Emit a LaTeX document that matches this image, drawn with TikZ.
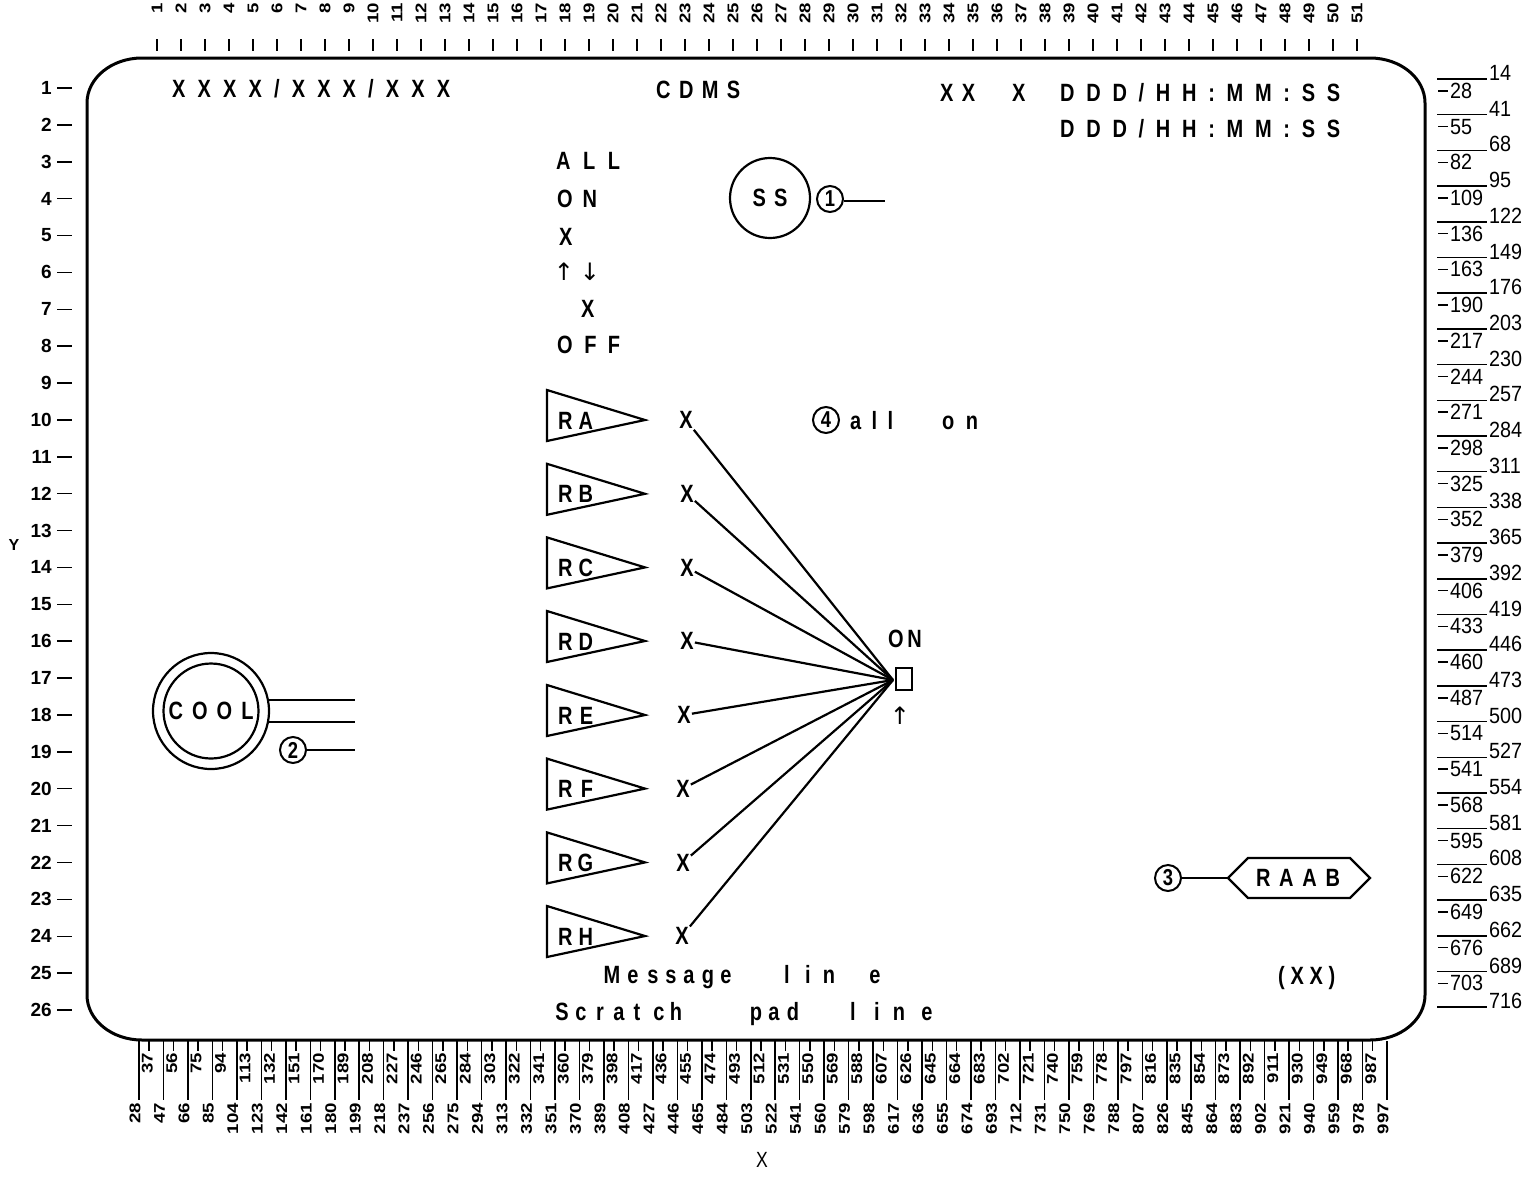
\documentclass[tikz,border=0pt]{standalone}
\usepackage{fontspec}
\setmainfont{Liberation Sans}
\newfontfamily\dspf{Liberation Sans}[FakeStretch=0.8]
\newfontfamily\sclf{Liberation Sans}[FakeStretch=1.2]
\newfontfamily\rnf{Liberation Sans}[FakeStretch=0.9]
\newfontfamily\arrf{DejaVu Sans}
\begin{document}
\begin{tikzpicture}[x=1pt,y=-1pt,
  ln/.style={line width=2.2pt},
  sline/.style={line width=1.5pt},
  txt/.style={font=\dspf\bfseries\fontsize{25}{25}\selectfont, inner sep=0pt, anchor=base west},
  ctxt/.style={font=\dspf\bfseries\fontsize{25}{25}\selectfont, inner sep=0pt},
  mk/.style={font=\dspf\bfseries\fontsize{25}{25}\selectfont, inner sep=1pt},
  ch/.style={font=\dspf\bfseries\fontsize{25}{25}\selectfont, inner sep=0pt, anchor=base},
  cnum/.style={circle, draw, line width=2pt, minimum size=26pt, inner sep=0pt, font=\dspf\bfseries\fontsize{23}{23}\selectfont},
  topn/.style={rotate=90, anchor=east, inner sep=0pt, font=\sclf\bfseries\fontsize{15.5}{15.5}\selectfont},
  rn/.style={inner sep=0pt, font=\rnf\fontsize{22}{22}\selectfont},
  rown/.style={anchor=east, inner sep=0pt, font=\bfseries\fontsize{19}{19}\selectfont},
  arrw/.style={inner sep=0pt, font=\arrf\fontsize{24}{24}\selectfont}]
\useasboundingbox (0,0) rectangle (1539,1179);
\fill[white] (0,0) rectangle (1539,1179);

% frame
\draw[line width=3pt] (142,58) -- (1370,58)
  .. controls (1400.4,58) and (1425,78.1) .. (1425,103) -- (1425,995)
  .. controls (1425,1019.9) and (1400.4,1040) .. (1370,1040) -- (142,1040)
  .. controls (111.6,1040) and (87,1019.9) .. (87,995) -- (87,103)
  .. controls (87,78.1) and (111.6,58) .. (142,58) -- cycle;

% top scale
\foreach \c in {1,...,51}{
  \pgfmathsetmacro\xx{157+24*(\c-1)}
  \node[topn] (tc\c) at (\xx,3) {\c};
  \draw[sline] (\xx,39) -- (\xx,51);
}
% bottom scale
\foreach \k in {0,...,51}{
  \pgfmathsetmacro\xx{135+24.47*\k}
  \pgfmathtruncatemacro\vv{28+19*\k}
  \node[topn] (bl\k) at (\xx,1103) {\vv};
  \draw[sline] (\xx+4,1041) -- (\xx+4,1100);
}
\foreach \k in {0,...,50}{
  \pgfmathsetmacro\xx{147.2+24.47*\k}
  \pgfmathtruncatemacro\vv{37+19*\k}
  \node[topn] (bu\k) at (\xx,1053) {\vv};
  \draw[sline] (\xx+2,1041) -- (\xx+2,1051);
}
% right scale
\foreach \k in {0,...,52}{
  \pgfmathsetmacro\yy{73+17.85*\k}
  \pgfmathtruncatemacro\vv{14+floor(13.5*\k+0.5)}
  \ifodd\k
    \draw[sline] (1438,\yy) -- (1448,\yy);
    \node[rn, anchor=west] (rs\k) at (1450,\yy) {\vv};
  \else
    \draw[sline] (1437,\yy+6) -- (1487,\yy+6);
    \node[rn, anchor=base west] (rs\k) at (1489,\yy+7.5) {\vv};
  \fi
}
% left scale
\foreach \r in {1,...,26}{
  \pgfmathsetmacro\yy{88+36.88*(\r-1)}
  \node[rown] (lr\r) at (52,\yy) {\r};
  \draw[sline] (57,\yy) -- (72,\yy);
}
\node[inner sep=0pt, font=\bfseries\fontsize{16}{16}\selectfont] (yaxis) at (14,545) {Y};
\node[inner sep=0pt, font=\dspf\fontsize{22}{22}\selectfont] (xaxis) at (762,1160) {X};

% header
\node[txt] (h1) at (172,97) {\makebox[278pt][s]{X X X X / X X X / X X X}};
\node[txt] (h2) at (656,98) {\makebox[84pt][s]{C D M S}};
\node[txt] (h3) at (940,101) {\makebox[35pt][s]{X X}};
\node[txt] (h4) at (1012,101) {X};
\node[txt] (h5) at (1060,101) {\makebox[280pt][s]{D D D / H H : M M : S S}};
\node[txt] (h6) at (1060,137) {\makebox[280pt][s]{D D D / H H : M M : S S}};

% left column
\node[txt] (all) at (556,169) {\makebox[64pt][s]{A L L}};
\node[txt] (on) at (557,207) {\makebox[40pt][s]{O N}};
\node[txt] (xm1) at (559,245) {X};
\node[arrw] (aup) at (564,272) {↑};
\node[arrw] (adn) at (590,272) {↓};
\node[txt] (xm2) at (581,317) {X};
\node[txt] (off) at (557,353) {\makebox[63pt][s]{O F F}};

% SS
\node[circle, draw, ln, minimum size=80pt, inner sep=0pt, font=\dspf\bfseries\fontsize{25}{25}\selectfont] (ss) at (770,198) {\makebox[35pt][s]{S S}};
\node[cnum] (n1) at (830,199) {1};
\coordinate (n1e) at (885,201);
\draw[sline] (n1.east |- n1e) -- (n1e);

% all on
\node[cnum] (n4) at (826,420) {4};
\node[txt] (al) at (850,429) {\makebox[43pt][s]{a l l}};
\node[txt] (onl) at (942,429) {\makebox[36pt][s]{o n}};

% junction square
\node[draw, ln, minimum width=16pt, minimum height=22pt, inner sep=0pt] (sq) at (904,679) {};
\coordinate (j) at (893,680);
\node[txt] (onsq) at (888,647) {\makebox[25pt][s]{O N}};
\node[arrw] (upsq) at (900,716) {↑};

% pennants
\foreach \n/\L/\yy/\xx in {a/A/420/686, b/B/493.8/687, c/C/567.4/687, d/D/641/687, e/E/715/684, f/F/788.6/683, g/G/862.4/683, h/H/936/682}{
  \draw[ln, line join=miter] (547,\yy-30) -- (645,\yy) -- (547,\yy+21) -- cycle;
  \node[txt] (r\n) at (558,\yy+9) {\makebox[35pt][s]{R \L}};
  \node[mk] (x\n) at (\xx,\yy) {X};
  \draw[ln] (x\n) -- (j);
}

% COOL
\node[circle, draw, ln, minimum size=95pt, inner sep=0pt, font=\dspf\bfseries\fontsize{25}{25}\selectfont] (cool) at (211,711) {\makebox[85pt][s]{C O O L}};
\node[circle, draw, ln, minimum size=116pt] (coolo) at (211,711) {};
\coordinate (cl) at (355,0);
\draw[ln] (coolo.11) -- (coolo.11 -| cl);
\draw[ln] (coolo.-11) -- (coolo.-11 -| cl);
\node[cnum] (n2) at (293,750) {2};
\coordinate (n2e) at (355,750);
\draw[sline] (n2) -- (n2e);

% RAAB
\draw[ln] (1228,878) -- (1248,858) -- (1350,858) -- (1370,878) -- (1350,898) -- (1248,898) -- cycle;
\node[ctxt] (raab) at (1298,878) {\makebox[84pt][s]{R A A B}};
\coordinate (hexl) at (1228,878);
\node[cnum] (n3) at (1168,878) {3};
\draw[sline] (n3) -- (hexl);
\node[txt] (xx) at (1278,984) {\makebox[57pt][s]{( X X )}};

% message / scratch pad lines
\foreach \c/\xx [count=\i] in {M/612,e/633,s/653,s/671,a/689,g/708,e/726,l/787,i/808,n/829,e/875}
  \node[ch] (ms\i) at (\xx,983) {\c};
\foreach \c/\xx [count=\i] in {S/562,c/581,r/600,a/619,t/637,c/659,h/676,p/756,a/774,d/793,l/853,i/877,n/899,e/927}
  \node[ch] (sp\i) at (\xx,1020) {\c};
\end{tikzpicture}
\end{document}
